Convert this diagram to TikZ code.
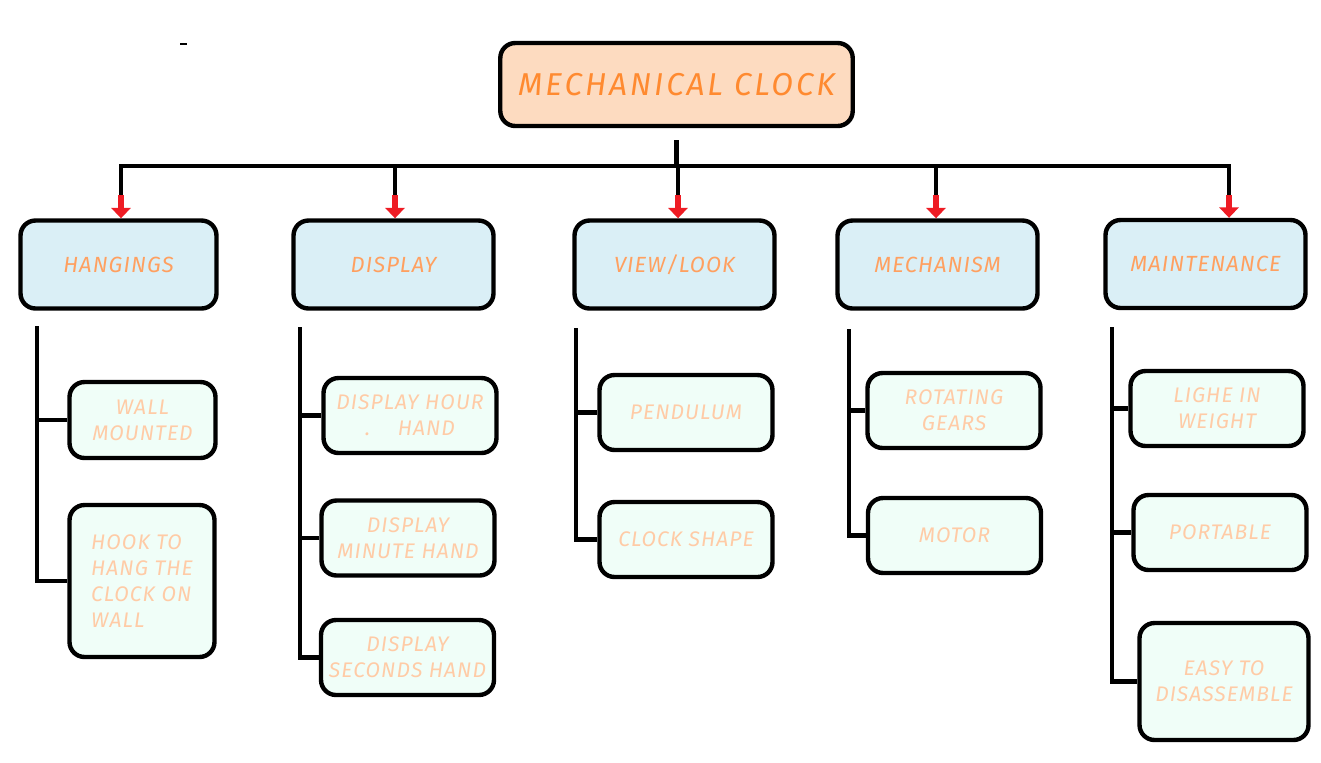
\documentclass[tikz,border=0pt]{standalone}
\usepackage{fontspec}
\setmainfont{Fira Sans}[LetterSpace=5]
\usetikzlibrary{arrows.meta}
\usetikzlibrary{positioning}
\definecolor{rootfill}{HTML}{FDDBC0}
\definecolor{roottext}{HTML}{FF8A30}
\definecolor{catfill}{HTML}{DAEFF6}
\definecolor{cattext}{HTML}{FFA060}
\definecolor{subfill}{HTML}{F0FEF8}
\definecolor{subtext}{HTML}{FFCBA6}
\definecolor{tipred}{HTML}{EE1C24}
\tikzset{root node/.style={rectangle,rounded corners=0.3cm,draw,line width=2.5pt,fill=rootfill,text=roottext,minimum width=7.05cm,minimum height=1.66cm,font=\fontsize{18}{21}\selectfont\itshape\addfontfeature{LetterSpace=9}},}
\tikzset{cat node/.style={rectangle,rounded corners=0.3cm,draw,line width=2.5pt,fill=catfill,text=cattext,minimum width=4.0cm,minimum height=1.76cm,font=\fontsize{12.5}{15}\selectfont\itshape},}
\tikzset{sub node/.style={rectangle,rounded corners=0.3cm,draw,line width=2.5pt,fill=subfill,text=subtext,minimum width=3.46cm,minimum height=1.5cm,align=center,font=\fontsize{12}{14.7}\selectfont\itshape},}
\tikzset{wire/.style={line width=2.5pt},}
\tikzset{tip/.style={-{Triangle[width=11pt,length=6pt]},line width=3.2pt,color=tipred},}

\begin{document}
\begin{tikzpicture}[x=0.02cm,y=-0.02cm]
     \useasboundingbox (0,0) rectangle (1321,762);
     \node[root node] (clock) at (676.5,84.5) {MECHANICAL CLOCK};

     \node[cat node, minimum width=3.92cm] (hang) at (118.5,264.5) {HANGINGS};
     \node[cat node] (disp) at (393.5,264.5) {DISPLAY};
     \node[cat node] (view) at (674.5,264.5) {VIEW/LOOK};
     \node[cat node] (mech) at (937.5,264.5) {MECHANISM};
     \node[cat node] (maint) at (1205.5,264) {MAINTENANCE};

     \node[sub node, minimum width=2.92cm, minimum height=1.52cm] (wall) at (142.5,420) {WALL\\MOUNTED};
     \node[sub node, minimum width=2.9cm, minimum height=3.04cm, align=left] (hook) at (142,581) {HOOK TO\\HANG THE\\CLOCK ON\\WALL};
     \node[sub node] (hour) at (410,415.5) {DISPLAY HOUR\\.\quad\ HAND};
     \node[sub node] (minute) at (408,538) {DISPLAY\\MINUTE HAND};
     \node[sub node] (seconds) at (407.5,657.5) {DISPLAY\\SECONDS HAND};
     \node[sub node] (pend) at (686,412.5) {PENDULUM};
     \node[sub node] (shape) at (686,539.5) {CLOCK SHAPE};
     \node[sub node] (gears) at (954,410.5) {ROTATING\\GEARS};
     \node[sub node] (motor) at (954.5,535.5) {MOTOR};
     \node[sub node] (light) at (1217,408.5) {LIGHE IN\\WEIGHT};
     \node[sub node] (port) at (1220,532.5) {PORTABLE};
     \node[sub node, minimum width=3.38cm, minimum height=2.34cm] (easy) at (1224,681.5) {EASY TO\\DISASSEMBLE};

     % bus from the root
     \draw[wire] ([yshift=-0.24cm]clock.south) -- (clock.south |- 0,166);
     \draw[wire] (121,196) -- (121,166) -- (1229,166) -- (1229,196);
     \foreach \c/\x in {hang/121, disp/395, view/678, mech/936, maint/1229} {
       \draw[wire] (\x,166) -- (\x,196);
       \draw[tip] (\x,195) -- (\x,0 |- \c.north);
     }

     % branches
     \draw[wire] (37,326) |- (hook.west);
     \draw[wire] (37,0 |- wall.west) -- (wall.west);
     \draw[wire] (300,327) |- (seconds.west);
     \draw[wire] (300,0 |- hour.west) -- (hour.west);
     \draw[wire] (300,0 |- minute.west) -- (minute.west);
     \draw[wire] (576,328) |- (shape.west);
     \draw[wire] (576,0 |- pend.west) -- (pend.west);
     \draw[wire] (849,329) |- (motor.west);
     \draw[wire] (849,0 |- gears.west) -- (gears.west);
     \draw[wire] (1112,327) |- (easy.west);
     \draw[wire] (1112,0 |- light.west) -- (light.west);
     \draw[wire] (1112,0 |- port.west) -- (port.west);

     \draw[line width=0.6pt] (180,44) -- (187,44);
  \end{tikzpicture}
\end{document}
